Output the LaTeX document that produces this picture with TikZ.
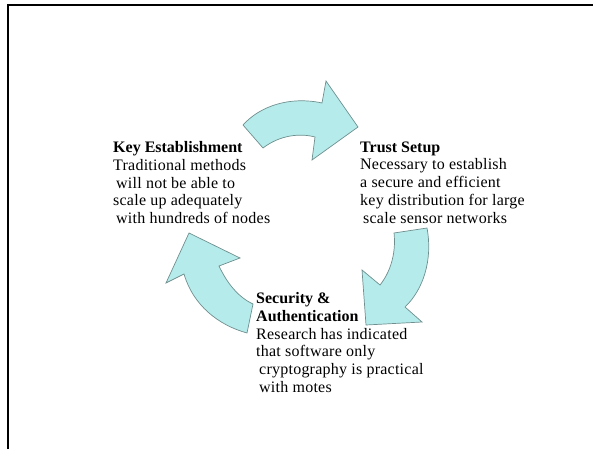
\documentclass[tikz,border=0pt]{standalone}
\usepackage{fontspec}
\setmainfont{Liberation Serif}[LetterSpace=1.5,BoldFeatures={LetterSpace=0}]
\definecolor{arrfill}{HTML}{B6EBEB}
\definecolor{arredge}{HTML}{6F8F8F}
\begin{document}
\begin{tikzpicture}[x=1pt,y=-1pt,
  cyc/.style={fill=arrfill,draw=arredge,line width=0.7pt,line join=miter},
  blk/.style={anchor=north west,inner sep=0pt,align=left,font=\fontsize{16}{17.7}\selectfont}]
\useasboundingbox (0,0) rectangle (593,449);
% frame
\draw[line width=2pt] (7.5,449) -- (7.5,5.5) -- (593,5.5);
% top arrow
\draw[cyc] (243,125) -- (263,148)
  .. controls (280,135) and (300,133) .. (315,137)
  -- (312,160) -- (358,127) -- (326,81) -- (322,103)
  .. controls (290,96) and (260,106) .. cycle;
% right arrow
\draw[cyc] (394,233) -- (427,228)
  .. controls (433,260) and (423,290) .. (405,307)
  -- (422,322) -- (366,325) -- (362,270) -- (380,285)
  .. controls (392,270) and (396,250) .. cycle;
% left arrow
\draw[cyc] (253,304) -- (247,333)
  .. controls (218,325) and (193,305) .. (184,274)
  -- (166,283) -- (189,233) -- (240,258) -- (219,266)
  .. controls (227,283) and (238,297) .. cycle;
% texts
\node[blk] (key) at (113,141.5) {\textbf{Key Establishment}\\Traditional methods\\\hspace{3pt}will not be able to\\scale up adequately\\\hspace{3pt}with hundreds of nodes};
\node[blk] (trust) at (360,141.5) {\textbf{Trust Setup}\\Necessary to establish\\a secure and efficient\\key distribution for large\\\hspace{3pt}scale sensor networks};
\node[blk] (sec) at (256,292.5) {\textbf{Security \&}\\\textbf{Authentication}\\Research has indicated\\that software only\\\hspace{3pt}cryptography is practical\\\hspace{3pt}with motes};
\end{tikzpicture}
\end{document}
